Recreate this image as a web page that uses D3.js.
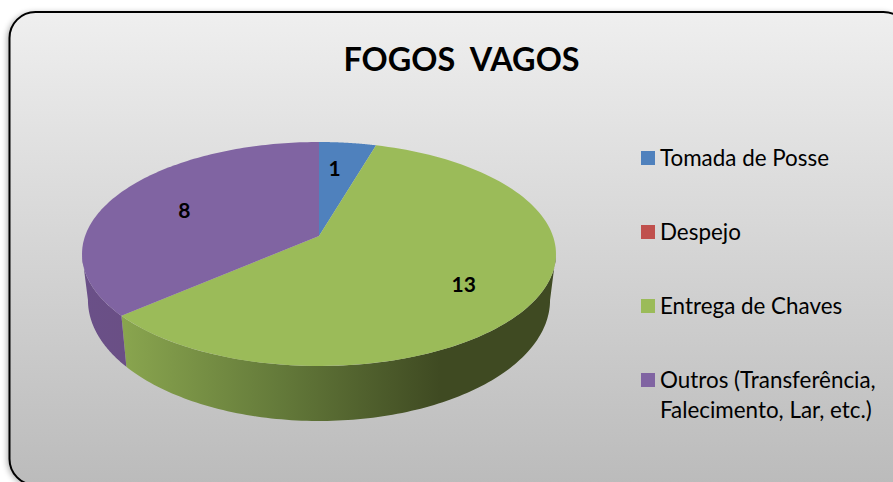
<!DOCTYPE html>
<html><head><meta charset="utf-8">
<script src="https://cdnjs.cloudflare.com/ajax/libs/d3/7.8.5/d3.min.js"></script>
<style>html,body{margin:0;padding:0;background:#fff;overflow:hidden}svg{display:block}text{font-family:Lato,"Open Sans",sans-serif;fill:#000}</style>
</head><body><div id="c"></div>
<script>
const categories = ["Tomada de Posse","Despejo","Entrega de Chaves","Outros (Transferência,|Falecimento, Lar, etc.)"];
const values = [1,0,13,8];
const colors = ["#4f81bd","#c0504d","#9bbb59","#8064a2"];
const title = "FOGOS  VAGOS";

const W=893,H=482;
const svg=d3.select("#c").append("svg").attr("width",W).attr("height",H);
const defs=svg.append("defs");
const bg=defs.append("linearGradient").attr("id","bg").attr("x1",0).attr("x2",0).attr("y1",0).attr("y2",1);
bg.append("stop").attr("offset",0).attr("stop-color","#efefef");
bg.append("stop").attr("offset",1).attr("stop-color","#bbbbbb");
const sh=defs.append("filter").attr("id","sh").attr("x","-5%").attr("y","-5%").attr("width","110%").attr("height","110%");
sh.append("feGaussianBlur").attr("stdDeviation",3);
const gG=defs.append("linearGradient").attr("id","rimG").attr("gradientUnits","userSpaceOnUse").attr("x1",119).attr("x2",440).attr("y1",0).attr("y2",0);
gG.append("stop").attr("offset",0).attr("stop-color","#8aa64f");
gG.append("stop").attr("offset",0.5).attr("stop-color","#647a3a");
gG.append("stop").attr("offset",1).attr("stop-color","#3f4a22");
const gP=defs.append("linearGradient").attr("id","rimP").attr("gradientUnits","userSpaceOnUse").attr("x1",82).attr("x2",125).attr("y1",0).attr("y2",0);
gP.append("stop").attr("offset",0).attr("stop-color","#6a5088");
gP.append("stop").attr("offset",1).attr("stop-color","#6a4f85");

// panel
const panel={x:9.5,y:12,w:900,h:473,r:26};
svg.append("rect").attr("x",panel.x-2).attr("y",panel.y+1).attr("width",panel.w).attr("height",panel.h).attr("rx",panel.r)
  .attr("fill","#000").attr("opacity",0.35).attr("filter","url(#sh)");
svg.append("rect").attr("x",panel.x).attr("y",panel.y).attr("width",panel.w).attr("height",panel.h).attr("rx",panel.r)
  .attr("fill","url(#bg)").attr("stroke","#000").attr("stroke-width",2);

svg.append("text").attr("x",461.5).attr("y",71).attr("text-anchor","middle")
  .attr("font-weight",700).attr("font-size",32.4).style("white-space","pre").attr("xml:space","preserve").text(title);

// perspective projection of the pie disc
const apex={x:319,y:236},A=233.9,B=109.1,P=0.1607;
const proj=a=>{const u=Math.sin(a),v=-Math.cos(a),d=1-P*v;return [apex.x+A*u/d,apex.y+B*v/d];};
const low=([x,y])=>[apex.x+(x-apex.x)*0.975,apex.y+(y-apex.y)*1.08+44.6];
const line=d3.line();
const arcs=d3.pie().value(d=>d).sort(null)(values);
const samples=(a0,a1)=>d3.range(0,121).map(i=>a0+(a1-a0)*i/120);

// rim: visible between the right and left tangents of the disc
const rimFill=["#4f81bd","#c0504d","url(#rimG)","url(#rimP)"];
const g=svg.append("g");
const minA=Math.acos(-P), maxA=2*Math.PI-minA;
arcs.forEach((s,i)=>{
  const a0=Math.max(s.startAngle,minA),a1=Math.min(s.endAngle,maxA);
  if(a1<=a0) return;
  const top=samples(a0,a1).map(proj), bot=samples(a1,a0).map(a=>low(proj(a)));
  g.append("path").attr("d",line(top.concat(bot))+"Z").attr("fill",rimFill[i]);
});
// top faces
arcs.forEach((s,i)=>{
  if(s.endAngle<=s.startAngle) return;
  const pts=[[apex.x,apex.y]].concat(samples(s.startAngle,s.endAngle).map(proj));
  g.append("path").attr("d",line(pts)+"Z").attr("fill",colors[i]);
});
// data labels
const labelPos=[0.72,0,0.63,0.62];
const labelNudge=[[-5,0],[0,0],[9,8],[-11,1]];
arcs.forEach((s,i)=>{
  if(!s.value) return;
  const [x,y]=proj((s.startAngle+s.endAngle)/2);
  const k=labelPos[i];
  svg.append("text").attr("x",apex.x+(x-apex.x)*k+labelNudge[i][0]).attr("y",apex.y+(y-apex.y)*k+labelNudge[i][1]).attr("dy","0.35em")
    .attr("text-anchor","middle").attr("font-weight",700).attr("font-size",21).text(s.value);
});
// legend
const ly=d3.scalePoint().domain(categories).range([158,380]);
categories.forEach((c,i)=>{
  const y=ly(c);
  svg.append("rect").attr("x",641).attr("y",y-7).attr("width",14).attr("height",14).attr("fill",colors[i]);
  c.split("|").forEach((t,j)=>{
    svg.append("text").attr("x",660).attr("y",y+7.5+j*30).attr("font-size",22.4).text(t);
  });
});
</script></body></html>
